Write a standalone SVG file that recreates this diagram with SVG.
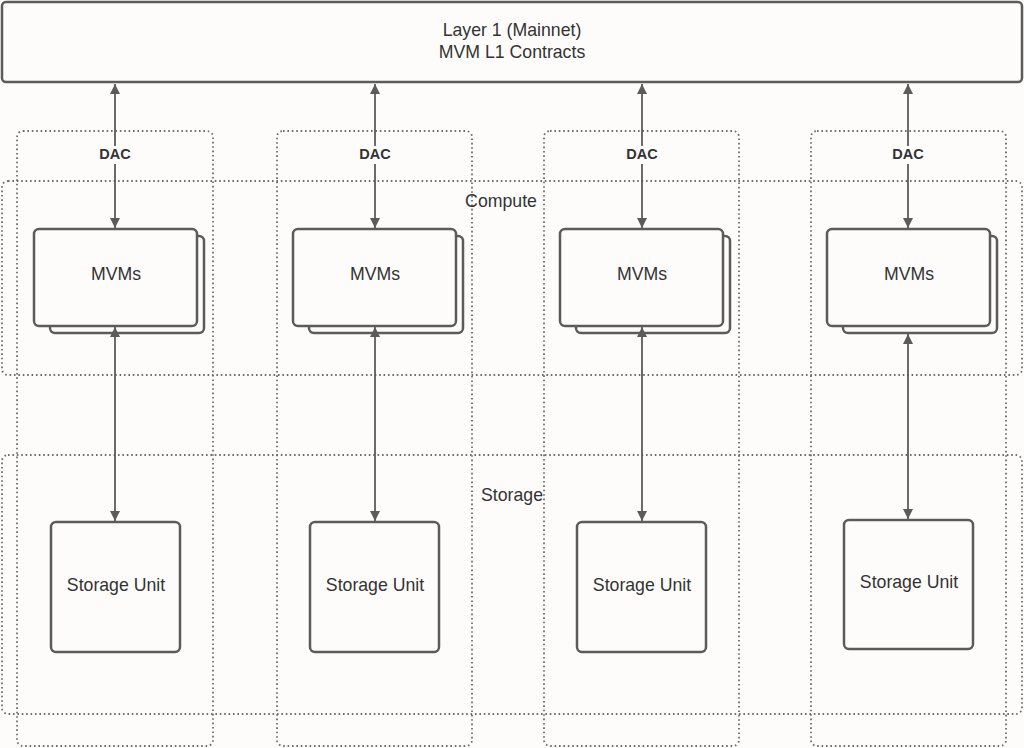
<svg xmlns="http://www.w3.org/2000/svg" width="1024" height="748" viewBox="0 0 1024 748">
<style>
.box{fill:#fdfcfb;stroke:#5b5b5b;stroke-width:2.5}
.dot{fill:none;stroke:#6e6e6e;stroke-width:1.8;stroke-dasharray:1.6 2.8}
.t{font-family:"Liberation Sans",Arial,sans-serif;font-size:17.7px;fill:#333;text-anchor:middle}
.dac{font-family:"Liberation Sans",Arial,sans-serif;font-size:14.5px;font-weight:bold;fill:#333;text-anchor:middle}
.ln{stroke:#5b5b5b;stroke-width:1.8;fill:none;marker-start:url(#ah);marker-end:url(#ah)}
.bg{fill:#fdfcfb}
</style>
<defs>
<marker id="ah" viewBox="0 0 10 10" refX="10" refY="5" markerWidth="10" markerHeight="10" markerUnits="userSpaceOnUse" orient="auto-start-reverse">
<path d="M0,0 L10,5 L0,10 z" fill="#5b5b5b"/>
</marker>
</defs>
<rect width="1024" height="748" fill="#fdfcfb"/>
<g id="containers">
<rect class="dot" x="17" y="131" width="196" height="615" rx="6"/>
<rect class="dot" x="277" y="131" width="195" height="615" rx="6"/>
<rect class="dot" x="544" y="131" width="195" height="615" rx="6"/>
<rect class="dot" x="811" y="131" width="195" height="615" rx="6"/>
<rect class="dot" x="2" y="181" width="1020" height="194" rx="6"/>
<rect class="dot" x="2" y="455" width="1020" height="259" rx="6"/>
<text class="t" x="501" y="207">Compute</text>
<text class="t" x="512" y="501">Storage</text>
</g>
<g id="layer1">
<rect class="box" x="2" y="2" width="1020" height="80" rx="4"/>
<text class="t" x="512" y="36">Layer 1 (Mainnet)</text>
<text class="t" x="512" y="58">MVM L1 Contracts</text>
</g>
<g id="mvms1"><rect class="box" x="50" y="236" width="154" height="97" rx="5"/><rect class="box" x="34" y="229" width="163" height="97" rx="5"/><text class="t" x="116" y="280">MVMs</text></g>
<g id="mvms2"><rect class="box" x="309" y="236" width="154" height="97" rx="5"/><rect class="box" x="293" y="229" width="163" height="97" rx="5"/><text class="t" x="375" y="280">MVMs</text></g>
<g id="mvms3"><rect class="box" x="576" y="236" width="154" height="97" rx="5"/><rect class="box" x="560" y="229" width="163" height="97" rx="5"/><text class="t" x="642" y="280">MVMs</text></g>
<g id="mvms4"><rect class="box" x="843" y="236" width="154" height="97" rx="5"/><rect class="box" x="827" y="229" width="163" height="97" rx="5"/><text class="t" x="909" y="280">MVMs</text></g>
<g id="storage1"><rect class="box" x="51" y="522" width="129" height="130" rx="5"/><text class="t" x="116" y="591">Storage Unit</text></g>
<g id="storage2"><rect class="box" x="310" y="522" width="129" height="130" rx="5"/><text class="t" x="375" y="591">Storage Unit</text></g>
<g id="storage3"><rect class="box" x="577" y="522" width="129" height="130" rx="5"/><text class="t" x="642" y="591">Storage Unit</text></g>
<g id="storage4"><rect class="box" x="844" y="520" width="129" height="129" rx="5"/><text class="t" x="909" y="588">Storage Unit</text></g>
<g id="connectors">
<line class="ln" x1="115" y1="84" x2="115" y2="228"/>
<line class="ln" x1="375" y1="84" x2="375" y2="228"/>
<line class="ln" x1="642" y1="84" x2="642" y2="228"/>
<line class="ln" x1="908" y1="84" x2="908" y2="228"/>
<line class="ln" x1="115" y1="327" x2="115" y2="521"/>
<line class="ln" x1="375" y1="327" x2="375" y2="521"/>
<line class="ln" x1="642" y1="327" x2="642" y2="521"/>
<line class="ln" x1="908" y1="334" x2="908" y2="519"/>
<rect class="bg" x="96" y="146" width="38" height="18"/>
<rect class="bg" x="356" y="146" width="38" height="18"/>
<rect class="bg" x="623" y="146" width="38" height="18"/>
<rect class="bg" x="889" y="146" width="38" height="18"/>
<text class="dac" x="115" y="159">DAC</text>
<text class="dac" x="375" y="159">DAC</text>
<text class="dac" x="642" y="159">DAC</text>
<text class="dac" x="908" y="159">DAC</text>
</g>
</svg>
